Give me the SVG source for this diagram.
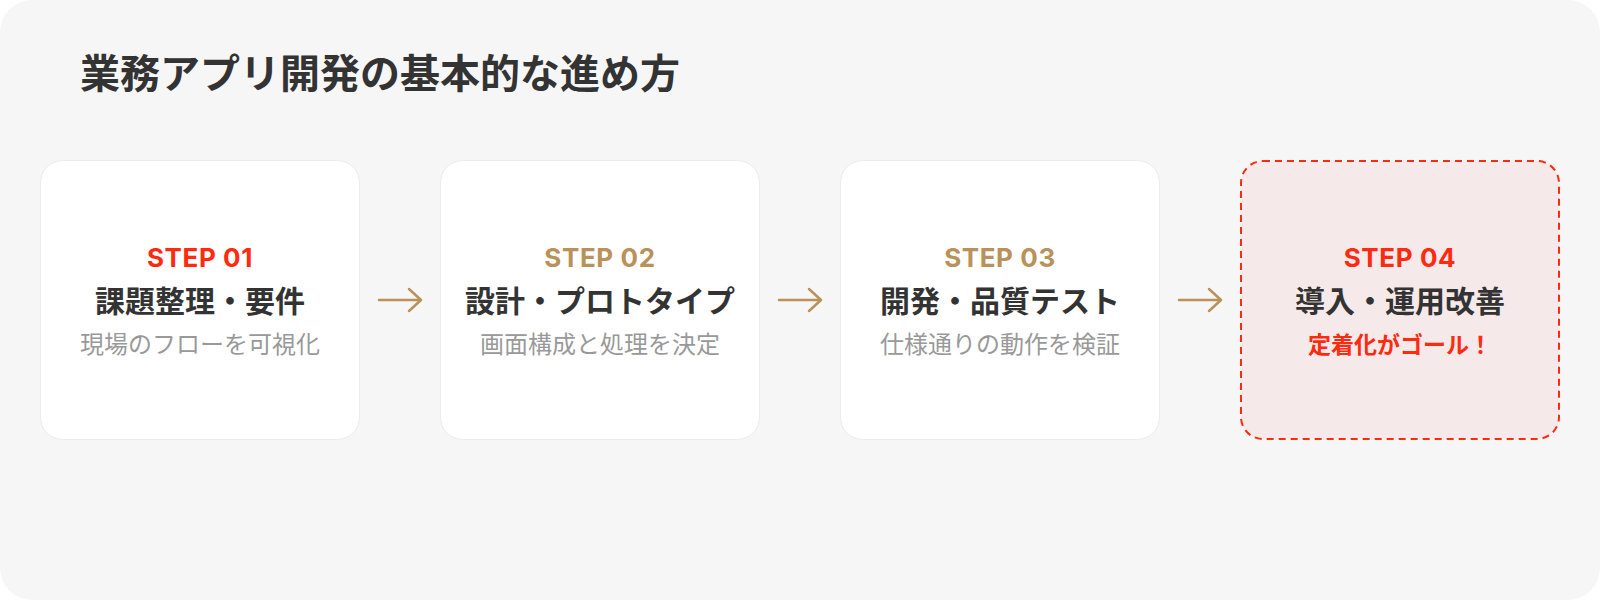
<svg xmlns="http://www.w3.org/2000/svg" width="1600" height="600" viewBox="0 0 1600 600">
<style>
text{font-family:Inter,"Noto Sans CJK JP",sans-serif;text-anchor:middle}
.title{font-size:40px;font-weight:700;fill:#333;text-anchor:start}
.card{fill:#fff;stroke:#ececec;stroke-width:1}
.goal{fill:#f6e9e9;stroke:#ff2a0f;stroke-width:2;stroke-dasharray:7 5}
.step{font-size:26px;font-weight:700;letter-spacing:0.6px}
.red{fill:#ff2a0f}
.gold{fill:#b8925a}
.name{font-size:30px;font-weight:700;fill:#333}
.sub{font-size:24px;fill:#999}
.subred{font-size:23px;font-weight:700;fill:#ff2a0f}
.arrow{fill:none;stroke:#b8925a;stroke-width:2.5;stroke-linecap:round;stroke-linejoin:round}
</style>
<rect x="0" y="0" width="1600" height="600" fill="#fff"/>
<rect x="0" y="0" width="1600" height="600" rx="32" fill="#f6f6f6"/>
<text class="title" x="80" y="88">業務アプリ開発の基本的な進め方</text>
<g id="step1">
<rect class="card" x="40.5" y="160.5" width="319" height="279" rx="22"/>
<text class="step red" x="200" y="267">STEP 01</text>
<text class="name" x="200" y="312">課題整理・要件</text>
<text class="sub" x="200" y="353">現場のフローを可視化</text>
</g>
<g id="step2">
<rect class="card" x="440.5" y="160.5" width="319" height="279" rx="22"/>
<text class="step gold" x="600" y="267">STEP 02</text>
<text class="name" x="600" y="312">設計・プロトタイプ</text>
<text class="sub" x="600" y="353">画面構成と処理を決定</text>
</g>
<g id="step3">
<rect class="card" x="840.5" y="160.5" width="319" height="279" rx="22"/>
<text class="step gold" x="1000" y="267">STEP 03</text>
<text class="name" x="1000" y="312">開発・品質テスト</text>
<text class="sub" x="1000" y="353">仕様通りの動作を検証</text>
</g>
<g id="step4">
<rect class="goal" x="1241" y="161" width="318" height="278" rx="22"/>
<text class="step red" x="1400" y="267">STEP 04</text>
<text class="name" x="1400" y="312">導入・運用改善</text>
<text class="subred" x="1400" y="353">定着化がゴール！</text>
</g>
<g id="connectors">
<path class="arrow" d="M379 300H421M409 289L421 300L409 311"/>
<path class="arrow" d="M779 300H821M809 289L821 300L809 311"/>
<path class="arrow" d="M1179 300H1221M1209 289L1221 300L1209 311"/>
</g>
</svg>
